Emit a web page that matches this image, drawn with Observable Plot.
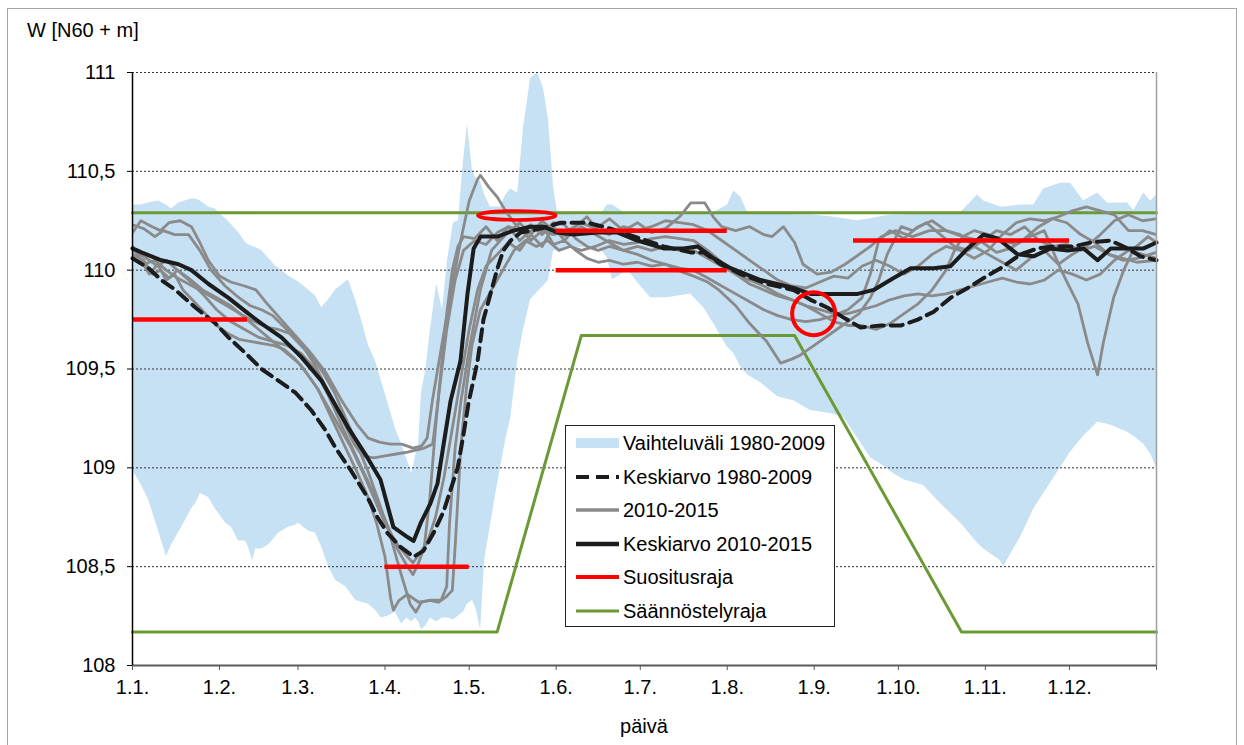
<!DOCTYPE html>
<html>
<head>
<meta charset="utf-8">
<script src="https://cdn.jsdelivr.net/npm/d3@7"></script>
<script src="https://cdn.jsdelivr.net/npm/@observablehq/plot@0.6"></script>
<style>
  html, body { margin: 0; padding: 0; background: #fff; }
  #wrap { position: relative; width: 1244px; height: 745px; overflow: hidden; font-family: "Liberation Sans", Arial, sans-serif; color: #000; }
  #frame { position: absolute; left: 7px; top: 8px; width: 1230px; height: 800px; border: 1.5px solid #a6a6a6; box-sizing: border-box; }
  #chart { position: absolute; left: 0; top: 0; }
  .lbl { position: absolute; font-size: 20px; line-height: 20px; white-space: nowrap; }
  #legend { position: absolute; left: 565px; top: 425px; width: 270px; height: 202px; background: #fff; border: 1px solid #222; box-sizing: border-box; }
  .row { position: absolute; left: 9px; height: 24px; line-height: 24px; font-size: 20px; white-space: nowrap; display: flex; align-items: center; }
  .row svg { display: block; margin-right: 4px; }
</style>
</head>
<body>
<div id="wrap">
  <div id="frame"></div>
  <div id="chart"></div>
  <div class="lbl" style="left:27px; top:20px;">W [N60 + m]</div>
  <div class="lbl" style="left:644px; top:716px; transform:translateX(-50%);">päivä</div>
  <div id="legend"></div>
</div>
<script>
// ---------- tick labels ----------
const monthStarts = [0, 31, 59, 90, 120, 151, 181, 212, 243, 273, 304, 334];
const monthLabels = ["1.1.", "1.2.", "1.3.", "1.4.", "1.5.", "1.6.", "1.7.", "1.8.", "1.9.", "1.10.", "1.11.", "1.12."];
const yearEnd = 365;
const yTicks = [108, 108.5, 109, 109.5, 110, 110.5, 111];
const gridLevels = [108.5, 109, 109.5, 110, 110.5, 111];

// ---------- Vaihteluväli 1980-2009: [day, min, max] ----------
const band = [
[0,108.99,110.33],[3.2,108.91,110.33],[5.7,108.84,110.34],[9.3,108.68,110.35],[12.1,108.55,110.33],
[13.9,108.61,110.31],[16.4,108.67,110.34],[21,108.79,110.36],[22.5,108.82,110.36],[24.2,108.87,110.35],
[27.1,108.85,110.32],[29.6,108.79,110.31],[30.7,108.77,110.29],[33.2,108.72,110.26],[35.3,108.70,110.23],
[37.8,108.63,110.19],[40.3,108.63,110.14],[41.3,108.60,110.13],[42.8,108.53,110.12],[43.9,108.59,110.115],
[46,108.59,110.10],[48.5,108.61,110.06],[51,108.65,110.02],[52.1,108.67,110.01],[55.6,108.70,109.97],
[58.1,108.71,109.95],[59.2,108.72,109.94],[62.7,108.68,109.90],[65.2,108.67,109.87],[67.4,108.60,109.81],
[69.9,108.50,109.85],[72.4,108.43,109.90],[75.9,108.40,109.94],[77,108.38,109.95],[79.5,108.33,109.85],
[81.6,108.32,109.75],[84.1,108.31,109.62],[86.6,108.28,109.54],[88.7,108.24,109.44],[91.2,108.25,109.32],
[93.7,108.27,109.20],[95.9,108.21,109.12],[97.7,108.24,109.05],[99.5,108.22,108.97],[100.9,108.24,109.06],
[102,108.22,109.12],[103,108.18,109.38],[104.5,108.20,109.49],[106.2,108.24,109.70],[108.4,108.22,109.93],
[110.5,108.24,109.80],[112.3,108.24,110.05],[114.4,108.23,110.24],[116.2,108.25,110.25],[118,108.27,110.555],
[119.4,108.31,110.74],[121.2,108.33,110.50],[122.6,108.28,110.46],[124.1,108.18,110.45],[125.5,108.53,110.38],
[127.6,108.71,110.32],[129.4,108.86,110.32],[131.2,109.00,110.32],[133,109.14,110.38],[134.8,109.25,110.41],
[137.3,109.54,110.39],[139.4,109.70,110.72],[141.9,109.85,110.97],[144.4,109.89,111.0],[146.5,109.92,110.92],
[148.3,109.95,110.76],[150.1,110.10,110.42],[151.5,110.10,110.29],[157.9,110.115,110.28],[166.8,110.11,110.28],
[169.3,110.06,110.33],[171.1,109.95,110.33],[176.5,110.00,110.28],[181.1,109.92,110.28],[184.7,109.86,110.28],
[190.7,109.86,110.28],[198.9,109.88,110.29],[203.6,109.81,110.29],[207.1,109.73,110.29],[212.1,109.61,110.33],
[214.3,109.58,110.40],[216.8,109.51,110.37],[219.3,109.47,110.29],[223.9,109.43,110.29],[230,109.36,110.29],
[235.6,109.34,110.28],[241.7,109.29,110.28],[248.8,109.275,110.27],[253.5,109.255,110.26],[258.5,109.15,110.25],
[263.1,109.05,110.26],[266.7,109.02,110.27],[271.3,108.97,110.28],[274.9,108.94,110.28],[282,108.91,110.29],
[288,108.82,110.29],[295.2,108.72,110.29],[301.2,108.62,110.38],[303.4,108.59,110.35],[309.4,108.53,110.32],
[310.5,108.50,110.32],[316.6,108.65,110.33],[321.2,108.79,110.33],[324.8,108.87,110.41],[330.8,109.00,110.44],
[334.4,109.08,110.44],[339,109.16,110.35],[344,109.23,110.39],[347.6,109.22,110.34],[349.7,109.21,110.34],
[354.7,109.18,110.34],[356.9,109.16,110.30],[360.4,109.12,110.39],[362.9,109.07,110.35],[365,109.00,110.38]
];

// ---------- Keskiarvo 1980-2009 ----------
const mean1980 = [
[0,110.06],[5.7,110.01],[10.3,109.95],[15.3,109.90],[22.5,109.81],[29.6,109.73],[34.2,109.66],[40.3,109.58],
[46,109.50],[52.1,109.44],[58.1,109.38],[63.8,109.29],[68.8,109.19],[72.4,109.10],[77.7,108.99],[83.8,108.85],
[87.3,108.75],[90.9,108.67],[95.5,108.60],[100.2,108.55],[103.7,108.58],[107.3,108.67],[110.9,108.78],
[113.4,108.89],[115.9,109.00],[118,109.17],[119.8,109.33],[123,109.54],[125.1,109.75],[127.6,109.88],
[130.1,110.01],[132.2,110.10],[134.8,110.15],[138.3,110.19],[145.5,110.21],[152.6,110.24],[162.2,110.24],
[170.4,110.21],[181.1,110.16],[189.3,110.12],[198.9,110.09],[203.6,110.09],[209.7,110.03],[216.8,109.98],
[226.4,109.93],[235.6,109.90],[241.7,109.85],[247.8,109.81],[253.5,109.76],[259.5,109.71],[266.7,109.72],
[273.8,109.72],[279.9,109.75],[285.6,109.79],[291.6,109.86],[297.7,109.91],[303.4,109.96],[309.4,110.01],
[316.6,110.08],[322.6,110.11],[328.3,110.12],[335.4,110.12],[341.5,110.14],[348.6,110.15],[354.7,110.11],
[359.3,110.07],[365,110.05]
];

// ---------- Keskiarvo 2010-2015 ----------
const mean2010 = [
[0,110.11],[3.2,110.09],[10.3,110.05],[16.4,110.03],[21,110.00],[27.1,109.93],[34.2,109.86],[41.3,109.78],
[46,109.73],[53.1,109.66],[60.2,109.56],[67.4,109.44],[73.4,109.29],[76.6,109.21],[83.8,109.05],[88.4,108.94],
[93,108.70],[98,108.65],[100.2,108.63],[102.7,108.72],[106.2,108.82],[108.7,108.92],[110.9,109.12],
[113.4,109.34],[116.9,109.54],[119.4,109.88],[121.6,110.11],[124.1,110.17],[130.1,110.17],[135.8,110.20],
[141.9,110.22],[146.5,110.22],[151.5,110.19],[157.2,110.18],[165.8,110.19],[172.9,110.19],[180,110.15],
[189.3,110.11],[196.4,110.11],[201.4,110.12],[207.1,110.06],[213.2,110.01],[223.9,109.95],[235.6,109.91],
[241.7,109.88],[249.9,109.88],[258.5,109.88],[264.2,109.90],[271.3,109.96],[277.4,110.01],[285.6,110.01],
[291.6,110.02],[297.7,110.11],[303.4,110.18],[308.4,110.16],[315.5,110.08],[321.2,110.07],[327.3,110.11],
[333.3,110.10],[339,110.11],[344,110.05],[348.7,110.11],[354.7,110.11],[360.4,110.11],[365,110.14]
];

// ---------- 2010-2015 yearly series ----------
const y2010 = [[0,110.19],[3,110.25],[7,110.22],[10,110.2],[13,110.24],[17,110.25],[21,110.22],[24,110.14],[27,110.05],[31,109.97],[35,109.94],[40,109.92],[44,109.9],[48,109.83],[53,109.75],[58,109.67],[63,109.59],[69,109.48],[75,109.33],[80,109.22],[84,109.15],[88,109.13],[92,109.12],[96,109.12],[100,109.1],[103,109.11],[105,109.15],[107,109.35],[110,109.6],[113,109.85],[117,110.15],[120,110.35],[123,110.46],[124,110.48],[127,110.42],[130,110.37],[133,110.3],[136,110.24],[139,110.2],[142,110.15],[146,110.2],[150,110.18],[155,110.2],[160,110.24],[165,110.21],[170,110.26],[175,110.2],[180,110.24],[185,110.19],[190,110.21],[195,110.27],[199,110.34],[204,110.34],[207,110.27],[210,110.22],[215,110.2],[220,110.22],[225,110.18],[228,110.17],[232,110.22],[236,110.14],[239,110.03],[244,109.98],[249,109.99],[254,110.03],[258,110.07],[263,110.12],[267,110.17],[272,110.2],[278,110.17],[284,110.2],[290,110.2],[296,110.17],[302,110.15],[308,110.09],[313,110.11],[318,110.16],[323,110.22],[328,110.26],[333,110.24],[338,110.18],[343,110.14],[348,110.08],[353,110.05],[358,110.06],[365,110.09]];
const y2011 = [[0,110.23],[4,110.21],[8,110.17],[11,110.2],[15,110.18],[20,110.18],[24,110.1],[28,110],[33,109.92],[38,109.86],[42,109.82],[46,109.8],[50,109.77],[55,109.7],[60,109.63],[65,109.52],[70,109.38],[75,109.24],[79,109.12],[82,109.06],[86,109.05],[90,109.06],[94,109.07],[98,109.08],[101,109.09],[104,109.1],[107,109.12],[109,109.35],[112,109.7],[115,109.95],[118,110.1],[122,110.15],[126,110.13],[130,110.19],[134,110.22],[138,110.2],[142,110.23],[146,110.18],[150,110.24],[154,110.23],[158,110.16],[162,110.12],[166,110.1],[170,110.12],[175,110.1],[180,110.12],[185,110.1],[190,110.12],[195,110.1],[200,110.1],[205,110.06],[210,110.02],[215,109.98],[220,109.95],[225,109.92],[230,109.88],[235,109.85],[240,109.82],[245,109.8],[250,109.78],[255,109.78],[260,109.8],[265,109.82],[270,109.85],[275,109.87],[280,109.88],[285,109.87],[290,109.88],[295,109.9],[300,109.92],[305,109.94],[310,109.96],[315,109.94],[320,109.93],[325,109.95],[330,110],[335,109.98],[340,109.95],[345,109.98],[350,110.05],[355,110.1],[360,110.08],[365,110.06]];
const y2012 = [[0,110.1],[5,110.06],[9,110.02],[12,110.05],[16,110],[20,109.96],[25,109.9],[30,109.86],[35,109.82],[40,109.76],[45,109.7],[50,109.64],[55,109.58],[60,109.52],[66,109.4],[71,109.25],[76,109.1],[80,108.98],[84,108.85],[87,108.72],[90,108.55],[92,108.34],[93,108.28],[95,108.33],[98,108.36],[102,108.32],[106,108.33],[110,108.33],[112,108.4],[113,108.72],[115,109.1],[117,109.33],[120,109.6],[124,109.9],[128,110.1],[133,110.18],[138,110.24],[142,110.18],[146,110.25],[150,110.2],[155,110.17],[160,110.22],[165,110.18],[170,110.14],[175,110.1],[180,110.08],[185,110.05],[190,110.03],[196,109.99],[200,109.97],[205,109.94],[209,109.9],[215,109.82],[220,109.73],[226,109.64],[231,109.53],[235,109.55],[238,109.57],[244,109.63],[252,109.71],[259,109.78],[263,109.86],[266,109.95],[269,110.08],[274,110.22],[278,110.2],[283,110.24],[288,110.18],[293,110.12],[298,110.1],[303,110.15],[308,110.2],[313,110.18],[318,110.22],[323,110.15],[328,110.12],[333,110.13],[338,110.1],[343,110.12],[348,110.08],[353,110.06],[358,110.04],[365,110.05]];
const y2013 = [[0,110.06],[4,110.03],[8,110.05],[12,110],[16,109.96],[20,109.93],[24,109.9],[30,109.85],[36,109.8],[42,109.75],[48,109.71],[52,109.7],[56,109.68],[60,109.62],[64,109.56],[68,109.48],[72,109.38],[76,109.25],[80,109.12],[84,108.98],[88,108.82],[92,108.65],[96,108.45],[99,108.31],[101,108.27],[103,108.32],[106,108.33],[109,108.32],[112,108.35],[114,108.38],[115,108.6],[117,109.1],[119,109.4],[121,109.62],[124,109.8],[128,109.9],[132,110],[136,110.1],[140,110.15],[144,110.12],[148,110.15],[152,110.1],[156,110.12],[160,110.1],[165,110.12],[170,110.15],[175,110.13],[180,110.14],[185,110.16],[190,110.17],[195,110.16],[200,110.15],[205,110.1],[210,110.04],[215,109.98],[220,109.93],[225,109.9],[230,109.87],[235,109.85],[240,109.82],[245,109.78],[250,109.74],[255,109.72],[260,109.72],[265,109.7],[270,109.73],[275,109.78],[280,109.83],[285,109.9],[290,110],[293,110.1],[296,110.17],[300,110.2],[305,110.18],[310,110.15],[315,110.13],[320,110.17],[325,110.2],[331,110],[337,109.83],[340.5,109.63],[344,109.47],[346,109.63],[349.7,109.86],[353.3,110],[357,110.11],[362,110.17],[365,110.14]];
const y2014 = [[0,110.08],[4,110.05],[7,109.98],[10,110],[13,109.96],[16,110],[20,109.95],[25,109.88],[30,109.8],[35,109.74],[40,109.7],[45,109.66],[50,109.64],[55,109.62],[60,109.58],[65,109.5],[70,109.36],[75,109.2],[80,109.05],[85,108.9],[90,108.74],[94,108.6],[98,108.5],[100,108.46],[102,108.52],[104,108.6],[106,108.85],[108,109.2],[110,109.5],[112,109.78],[114,110],[116,110.12],[118,110.17],[122,110.16],[126,110.22],[130,110.15],[134,110.22],[138,110.15],[142,110.2],[146,110.23],[150,110.13],[154,110.15],[158,110.1],[162,110.06],[166,110.04],[170,110.05],[175,110.03],[180,110.04],[185,110.02],[190,110.03],[195,110.01],[200,110],[205,109.96],[210,109.92],[215,109.88],[220,109.84],[225,109.8],[230,109.77],[235,109.75],[240,109.74],[245,109.75],[250,109.77],[255,109.8],[260,109.86],[263,109.98],[266,110.15],[270,110.2],[275,110.16],[280,110.22],[285,110.25],[290,110.2],[295,110.18],[300,110.12],[305,110.08],[310,110.04],[315,110],[320,110.06],[325,110.1],[330,110.03],[335,110.08],[340,110.12],[345,110.18],[350,110.25],[355,110.28],[360,110.25],[365,110.26]];
const y2015 = [[0,110.12],[3,110.05],[6,109.98],[9,110.03],[12,109.95],[15,109.98],[18,109.9],[22,109.84],[26,109.78],[30,109.72],[34,109.68],[38,109.65],[42,109.64],[46,109.63],[50,109.62],[54,109.6],[58,109.55],[62,109.48],[66,109.4],[70,109.3],[74,109.2],[78,109.1],[82,108.98],[86,108.85],[90,108.72],[94,108.62],[98,108.55],[100,108.52],[102,108.56],[105,108.62],[108,108.75],[111,108.95],[114,109.2],[117,109.45],[120,109.7],[123,109.9],[126,110.02],[130,110.08],[134,110.14],[138,110.1],[142,110.18],[146,110.12],[150,110.22],[154,110.15],[158,110.22],[162,110.27],[166,110.2],[170,110.18],[175,110.22],[180,110.2],[185,110.22],[190,110.25],[195,110.24],[200,110.23],[205,110.2],[210,110.15],[215,110.1],[220,110.05],[225,110],[230,109.95],[235,109.92],[240,109.91],[245,109.94],[250,109.97],[255,109.96],[260,110.02],[265,110.05],[270,110.02],[275,109.98],[280,110.02],[285,110.08],[290,110.12],[295,110.1],[300,110.06],[305,110.1],[310,110.18],[315,110.24],[320,110.26],[325,110.25],[330,110.27],[335,110.3],[340,110.32],[345,110.3],[350,110.28],[355,110.2],[360,110.2],[365,110.18]];
const yearNames = ["2010", "2011", "2012", "2013", "2014", "2015"];

// ---------- Suositusraja: [fromDay, toDay, level] ----------
const suositusraja = [[0,41,109.75],[90,120,108.5],[151,212,110.2],[151,212,110.0],[257,334,110.15]];
// ---------- Säännöstelyraja ----------
const rajaUpper = [[0,110.29],[365,110.29]];
const rajaLower = [[0,108.17],[130,108.17],[160,109.67],[236,109.67],[295.5,108.17],[365,108.17]];
// ---------- highlight marks (position in data units) ----------
const circleAt = [[242.8,109.78]];
const ellipseAt = [[137,110.277]];

// ---------- build ----------
const grayRows = [y2010, y2011, y2012, y2013, y2014, y2015]
  .flatMap((s, i) => s.map(([d, v]) => ({day: d, value: v, year: yearNames[i]})));

const ellipseSymbol = {
  draw(ctx, size) {
    const rx = 39, ry = 4.5, k = 0.5523;
    ctx.moveTo(rx, 0);
    ctx.bezierCurveTo(rx, ry * k, rx * k, ry, 0, ry);
    ctx.bezierCurveTo(-rx * k, ry, -rx, ry * k, -rx, 0);
    ctx.bezierCurveTo(-rx, -ry * k, -rx * k, -ry, 0, -ry);
    ctx.bezierCurveTo(rx * k, -ry, rx, -ry * k, rx, 0);
    ctx.closePath();
  }
};

const fmtY = v => String(v).replace(".", ",");
const fmtX = d => { const i = monthStarts.indexOf(d); return i >= 0 ? monthLabels[i] : ""; };

const GREEN = "#6b9a35", RED = "#ff0000", GRAY = "#8a8a8a", BLACK = "#1c1c1c", BLUE = "#c6e1f4";

const chart = Plot.plot({
  width: 1244,
  height: 745,
  marginLeft: 132,
  marginRight: 88,
  marginTop: 72,
  marginBottom: 80,
  style: {fontFamily: "'Liberation Sans', Arial, sans-serif", fontSize: "20px", color: "#000", background: "transparent", overflow: "visible"},
  x: {domain: [0, yearEnd]},
  y: {domain: [108, 111]},
  marks: [
    Plot.areaY(band, {x: d => d[0], y1: d => d[1], y2: d => d[2], fill: BLUE, clip: true}),
    Plot.ruleY(gridLevels, {stroke: "#333", strokeWidth: 1, strokeDasharray: "2,2"}),
    Plot.line(rajaUpper, {x: d => d[0], y: d => d[1], stroke: GREEN, strokeWidth: 3}),
    Plot.line(rajaLower, {x: d => d[0], y: d => d[1], stroke: GREEN, strokeWidth: 3}),
    Plot.line(grayRows, {x: "day", y: "value", z: "year", stroke: GRAY, strokeWidth: 2.8, strokeLinejoin: "round", clip: true}),
    Plot.line(mean1980, {x: d => d[0], y: d => d[1], stroke: BLACK, strokeWidth: 4, strokeDasharray: "12,7"}),
    Plot.line(mean2010, {x: d => d[0], y: d => d[1], stroke: BLACK, strokeWidth: 4, strokeLinejoin: "round"}),
    Plot.ruleY(suositusraja, {x1: d => d[0], x2: d => d[1], y: d => d[2], stroke: RED, strokeWidth: 4.5}),
    Plot.dot(circleAt, {x: d => d[0], y: d => d[1], r: 21.5, stroke: RED, strokeWidth: 4, fill: "none"}),
    Plot.dot(ellipseAt, {x: d => d[0], y: d => d[1], r: 5, symbol: ellipseSymbol, stroke: RED, strokeWidth: 3.5, fill: "none"}),
    Plot.ruleX([yearEnd], {stroke: "#a0a0a0", strokeWidth: 1.5}),
    Plot.ruleY([108], {stroke: "#5a5a5a", strokeWidth: 2}),
    Plot.ruleX([0], {stroke: "#000", strokeWidth: 1.5}),
    Plot.axisY({ticks: yTicks, tickFormat: fmtY, tickSize: 5, tickPadding: 12, label: null, stroke: "#000"}),
    Plot.axisX({ticks: [...monthStarts, yearEnd], tickFormat: fmtX, tickSize: 5, tickPadding: 9, label: null, stroke: "#5a5a5a"})
  ]
});
document.getElementById("chart").appendChild(chart);

// ---------- legend ----------
const legendItems = [
  {label: "Vaihteluväli 1980-2009", kind: "rect", color: BLUE},
  {label: "Keskiarvo 1980-2009", kind: "line", color: BLACK, width: 4, dash: "13,7"},
  {label: "2010-2015", kind: "line", color: GRAY, width: 3.5},
  {label: "Keskiarvo 2010-2015", kind: "line", color: BLACK, width: 4.5},
  {label: "Suositusraja", kind: "line", color: RED, width: 4},
  {label: "Säännöstelyraja", kind: "line", color: GREEN, width: 3}
];
const legend = document.getElementById("legend");
legendItems.forEach((it, i) => {
  const row = document.createElement("div");
  row.className = "row";
  row.style.top = (18 + 33.5 * i - 12 - 1) + "px";
  const ns = "http://www.w3.org/2000/svg";
  const svg = document.createElementNS(ns, "svg");
  svg.setAttribute("width", 44);
  svg.setAttribute("height", 24);
  if (it.kind === "rect") {
    const r = document.createElementNS(ns, "rect");
    r.setAttribute("x", 1); r.setAttribute("y", 7); r.setAttribute("width", 43); r.setAttribute("height", 10);
    r.setAttribute("fill", it.color);
    svg.appendChild(r);
  } else {
    const l = document.createElementNS(ns, "line");
    l.setAttribute("x1", 1); l.setAttribute("x2", 44); l.setAttribute("y1", 12); l.setAttribute("y2", 12);
    l.setAttribute("stroke", it.color); l.setAttribute("stroke-width", it.width);
    if (it.dash) l.setAttribute("stroke-dasharray", it.dash);
    svg.appendChild(l);
  }
  row.appendChild(svg);
  const span = document.createElement("span");
  span.textContent = it.label;
  row.appendChild(span);
  legend.appendChild(row);
});
</script>
</body>
</html>
